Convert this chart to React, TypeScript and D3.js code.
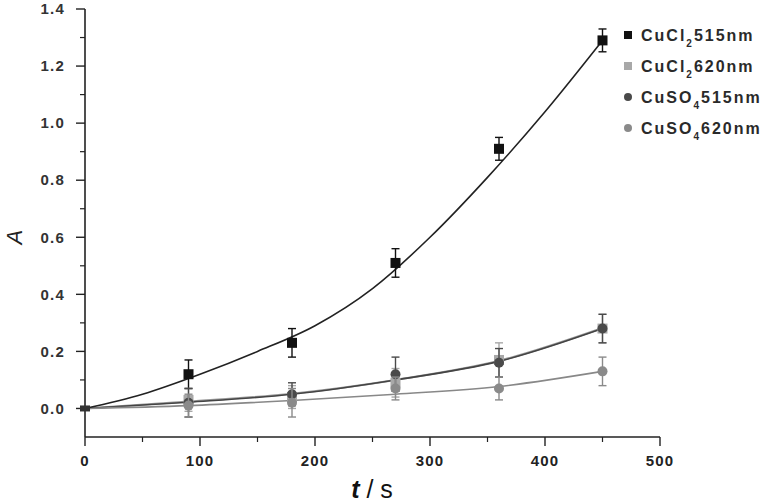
import React from 'react';
import * as d3 from 'd3';

// measured time points (s)
const times = [0, 90, 180, 270, 360, 450];

// absorbance readings per series
const cucl2_515 = [0, 0.12, 0.23, 0.51, 0.91, 1.29];
const cucl2_515Err = [0, 0.05, 0.05, 0.05, 0.04, 0.04];
const cucl2_620 = [0, 0.03, 0.04, 0.09, 0.17, 0.28];
const cucl2_620Err = [0, 0.04, 0.04, 0.05, 0.06, 0.05];
const cuso4_515 = [0, 0.02, 0.05, 0.12, 0.16, 0.28];
const cuso4_515Err = [0, 0.05, 0.04, 0.06, 0.05, 0.05];
const cuso4_620 = [0, 0.01, 0.02, 0.07, 0.07, 0.13];
const cuso4_620Err = [0, 0.04, 0.05, 0.04, 0.04, 0.05];

// fitted curves
const fitTimes = [0, 50, 100, 150, 200, 250, 300, 350, 400, 450];
const fit515Cl = [0, 0.05, 0.12, 0.2, 0.29, 0.42, 0.6, 0.81, 1.04, 1.29];
const fitTimesLow = [0, 90, 180, 270, 360, 450];
const fit620Cl = [0, 0.024, 0.052, 0.1, 0.167, 0.282];
const fit515So = [0, 0.022, 0.05, 0.1, 0.165, 0.28];
const fit620So = [0, 0.01, 0.028, 0.05, 0.077, 0.13];

const xTicks = [0, 100, 200, 300, 400, 500];
const xMinor = [50, 150, 250, 350, 450];
const yTicks = [0, 0.2, 0.4, 0.6, 0.8, 1.0, 1.2, 1.4];
const yMinor = [0.1, 0.3, 0.5, 0.7, 0.9, 1.1, 1.3];

const series = [
  { name: 'CuCl', sub: '2', nm: '515nm', vals: cucl2_515, err: cucl2_515Err, color: '#111', shape: 'square' },
  { name: 'CuCl', sub: '2', nm: '620nm', vals: cucl2_620, err: cucl2_620Err, color: '#a8a8a8', shape: 'square' },
  { name: 'CuSO', sub: '4', nm: '515nm', vals: cuso4_515, err: cuso4_515Err, color: '#4a4a4a', shape: 'circle' },
  { name: 'CuSO', sub: '4', nm: '620nm', vals: cuso4_620, err: cuso4_620Err, color: '#8a8a8a', shape: 'circle' },
];

const fits = [
  { t: fitTimesLow, v: fit620Cl, color: '#9a9a9a', w: 2 },
  { t: fitTimesLow, v: fit515So, color: '#444', w: 1.6 },
  { t: fitTimesLow, v: fit620So, color: '#888', w: 1.6 },
  { t: fitTimes, v: fit515Cl, color: '#222', w: 1.6 },
];

export default function App() {
  const x = d3.scaleLinear().domain([0, 500]).range([85, 660]);
  const y = d3.scaleLinear().domain([-0.1, 1.4]).range([437, 9]);
  const line = d3.line<[number, number]>()
    .x(d => x(d[0]))
    .y(d => y(d[1]))
    .curve(d3.curveMonotoneX);
  const font = 'Arial, "Liberation Sans", sans-serif';
  const axisColor = '#222';

  return (
    <svg width={774} height={504} style={{ position: 'absolute', left: 0, top: 0, background: '#fff' }}>
      {/* axes */}
      <line x1={x(0)} x2={x(0)} y1={y(1.4)} y2={y(-0.1)} stroke={axisColor} strokeWidth={1.6} />
      <line x1={x(0)} x2={x(500)} y1={y(-0.1)} y2={y(-0.1)} stroke={axisColor} strokeWidth={1.6} />
      {yTicks.map(t => (
        <g key={'y' + t}>
          <line x1={x(0) - 9} x2={x(0)} y1={y(t)} y2={y(t)} stroke={axisColor} strokeWidth={1.4} />
          <text x={x(0) - 20} y={y(t)} dy="0.35em" textAnchor="end" fontFamily={font} fontWeight="bold"
            fontSize={15} letterSpacing={1.2} fill="#333">{t.toFixed(1)}</text>
        </g>
      ))}
      {yMinor.map(t => (
        <line key={'ym' + t} x1={x(0) - 5} x2={x(0)} y1={y(t)} y2={y(t)} stroke={axisColor} strokeWidth={1.2} />
      ))}
      {xTicks.map(t => (
        <g key={'x' + t}>
          <line x1={x(t)} x2={x(t)} y1={y(-0.1)} y2={y(-0.1) + 9} stroke={axisColor} strokeWidth={1.4} />
          <text x={x(t)} y={y(-0.1) + 29} textAnchor="middle" fontFamily={font} fontWeight="bold"
            fontSize={15} letterSpacing={1.2} fill="#222">{t}</text>
        </g>
      ))}
      {xMinor.map(t => (
        <line key={'xm' + t} x1={x(t)} x2={x(t)} y1={y(-0.1)} y2={y(-0.1) + 5} stroke={axisColor} strokeWidth={1.2} />
      ))}
      <text transform={`translate(22,${y(0.6)}) rotate(-90)`} textAnchor="middle" fontFamily={font}
        fontStyle="italic" fontSize={22} fill="#222">A</text>
      <text x={372} y={498} textAnchor="middle" fontFamily={font} fontSize={25} fill="#111">
        <tspan fontStyle="italic" fontWeight="bold">t</tspan>
        <tspan> / s</tspan>
      </text>

      {/* fit curves */}
      {fits.map((f, i) => (
        <path key={'f' + i} d={line(f.t.map((t, j) => [t, f.v[j]] as [number, number])) || ''}
          fill="none" stroke={f.color} strokeWidth={f.w} />
      ))}

      {/* error bars and markers */}
      {series.map((s, si) => (
        <g key={'s' + si}>
          {times.map((t, j) => {
            if (j === 0) return null;
            const cx = x(t), cy = y(s.vals[j]);
            const top = y(s.vals[j] + s.err[j]), bot = y(s.vals[j] - s.err[j]);
            return (
              <g key={j}>
                <line x1={cx} x2={cx} y1={top} y2={bot} stroke={s.color} strokeWidth={1.4} />
                <line x1={cx - 4} x2={cx + 4} y1={top} y2={top} stroke={s.color} strokeWidth={1.4} />
                <line x1={cx - 4} x2={cx + 4} y1={bot} y2={bot} stroke={s.color} strokeWidth={1.4} />
                {s.shape === 'square'
                  ? <rect x={cx - 5} y={cy - 5} width={10} height={10} fill={s.color} />
                  : <circle cx={cx} cy={cy} r={5} fill={s.color} />}
              </g>
            );
          })}
        </g>
      ))}
      <rect x={x(0) - 5} y={y(0) - 3} width={10} height={6} fill="#333" />

      {/* legend */}
      {series.map((s, i) => {
        const ly = 35 + i * 31;
        return (
          <g key={'l' + i}>
            {s.shape === 'square'
              ? <rect x={624} y={ly - 4} width={8} height={8} fill={s.color} />
              : <circle cx={628} cy={ly} r={4} fill={s.color} />}
            <text x={641} y={ly} dy="0.35em" fontFamily={font} fontWeight="bold" fontSize={16}
              letterSpacing={2} fill="#2a2a2a">
              {s.name}
              <tspan dy={6} fontSize={10}>{s.sub}</tspan>
              <tspan dy={-6}>{s.nm}</tspan>
            </text>
          </g>
        );
      })}
    </svg>
  );
}
